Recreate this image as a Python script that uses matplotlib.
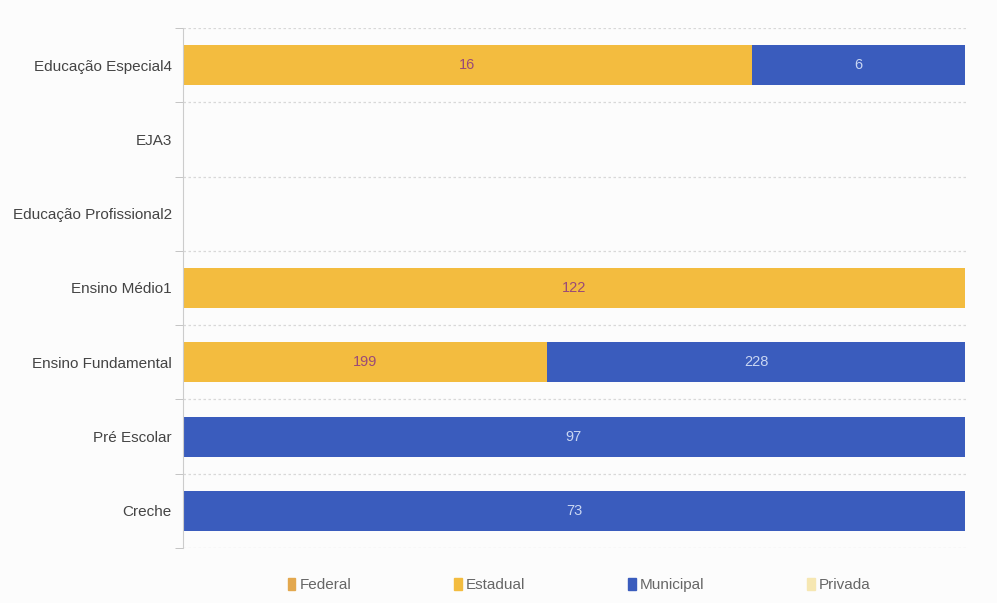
import matplotlib
matplotlib.use("Agg")
import matplotlib.pyplot as plt
import numpy as np

categories = ["Educação Especial4", "EJA3", "Educação Profissional2", "Ensino Médio1",
              "Ensino Fundamental", "Pré Escolar", "Creche"]
series_names = ["Federal", "Estadual", "Municipal", "Privada"]
federal = [0, 0, 0, 0, 0, 0, 0]
estadual = [16, 0, 0, 122, 199, 0, 0]
municipal = [6, 0, 0, 0, 228, 97, 73]
privada = [0, 0, 0, 0, 0, 0, 0]

colors = ["#E3A84E", "#F3BC3F", "#3A5CBD", "#F6E7B2"]
label_colors = ["#8a4a6a", "#9a4a78", "#c9d6f2", "#8a6a4a"]

plt.rcParams['font.family'] = ['Liberation Sans', 'DejaVu Sans']

fig = plt.figure(figsize=(9.97, 6.03), dpi=100)
fig.patch.set_facecolor("#fcfcfc")
ax = fig.add_axes([0.1836, 0.0912, 0.7864, 0.8624])
ax.set_facecolor("#fcfcfc")

data = np.array([federal, estadual, municipal, privada], dtype=float)
totals = data.sum(axis=0)
safe = np.where(totals == 0, 1, totals)
pct = data / safe

y = np.arange(len(categories))
left = np.zeros(len(categories))
for i, name in enumerate(series_names):
    ax.barh(y, pct[i], left=left, height=0.54, color=colors[i], label=name)
    for j in range(len(categories)):
        if data[i, j] > 0:
            ax.text(left[j] + pct[i, j] / 2, y[j], f"{int(data[i, j])}",
                    ha="center", va="center", fontsize=10.5, color=label_colors[i])
    left += pct[i]

ax.set_ylim(len(categories) - 0.5, -0.5)
ax.set_xlim(0, 1.003)
ax.set_yticks(y)
ax.set_yticklabels(categories, fontsize=11, color="#444444")
ax.set_yticks(np.arange(-0.5, len(categories)), minor=True)
ax.tick_params(axis="y", which="major", length=0, pad=8)
ax.tick_params(axis="y", which="minor", length=6, color="#bbbbbb")
ax.set_xticks([])
ax.grid(axis="y", which="minor", color="#d8d8d8", linestyle=(0, (2, 2)), linewidth=0.9)
ax.set_axisbelow(True)
for s in ["top", "right", "bottom"]:
    ax.spines[s].set_visible(False)
ax.spines["left"].set_color("#cccccc")

handles = [plt.Rectangle((0, 0), 1, 1, color=c) for c in colors]
leg = fig.legend(handles, series_names, loc="center", bbox_to_anchor=(0.581, 0.03),
                 ncol=4, frameon=False, handlelength=0.5, handleheight=0.9,
                 handletextpad=0.3, columnspacing=6.7, fontsize=11)
for t in leg.get_texts():
    t.set_color("#666666")

fig.savefig("out.png", dpi=100, facecolor=fig.get_facecolor())
